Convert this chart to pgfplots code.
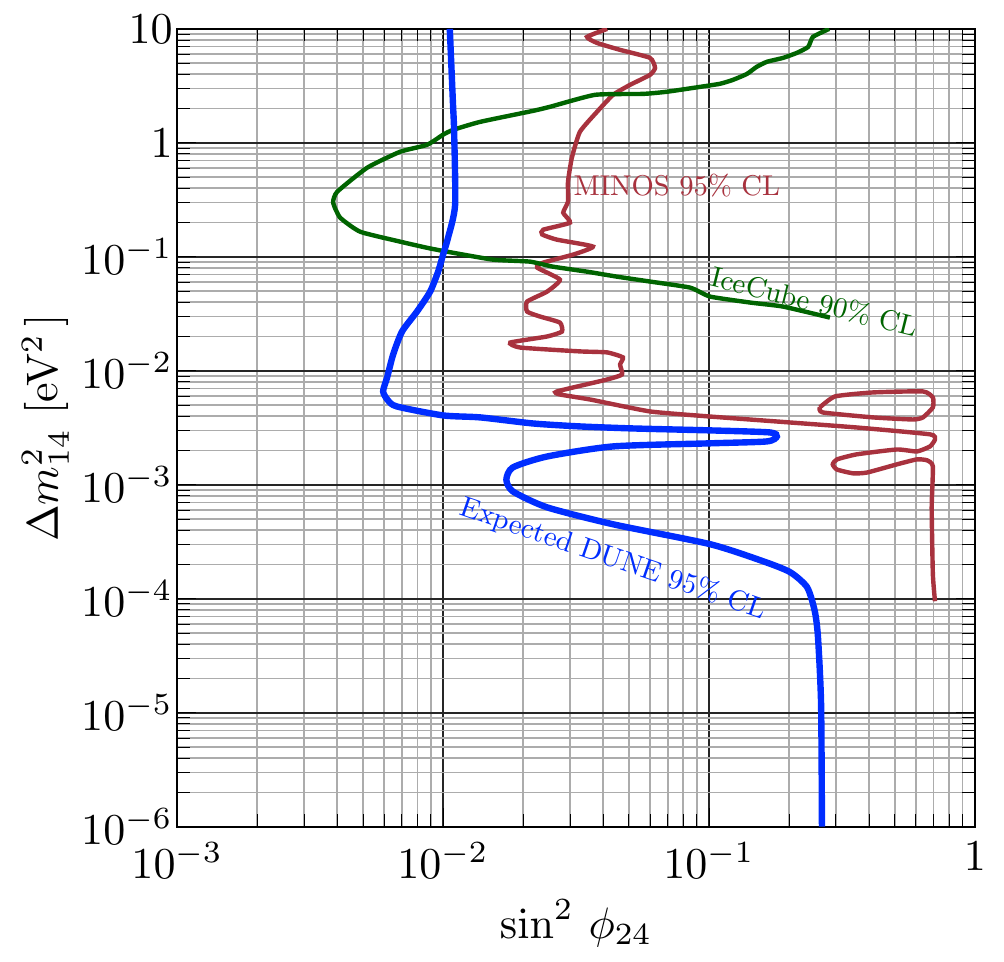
\documentclass[border=0pt]{standalone}
\usepackage{pgfplots}
\pgfplotsset{compat=1.18}
\definecolor{minos}{RGB}{168,50,62}
\definecolor{ice}{RGB}{0,100,0}
\definecolor{dune}{RGB}{0,45,255}
\begin{document}
\begin{tikzpicture}
\begin{axis}[name=ax, xmode=log, ymode=log, scale only axis,
  width=181pt, height=181pt,
  xmin=1e-3, xmax=1, ymin=1e-6, ymax=10,
  xtick={1e-3,1e-2,1e-1,1}, xticklabels={$10^{-3}$,$10^{-2}$,$10^{-1}$,$1$},
  ytick={1e-6,1e-5,1e-4,1e-3,1e-2,1e-1,1,10},
  yticklabels={$10^{-6}$,$10^{-5}$,$10^{-4}$,$10^{-3}$,$10^{-2}$,$10^{-1}$,$1$,$10$},
  yticklabel style={xshift=2.5pt},
  grid=both,
  major grid style={black!85, line width=0.4pt},
  minor grid style={gray!65, line width=0.35pt},
  xlabel={$\sin^2\,\phi_{24}$},
  ylabel={$\Delta m^2_{14}$ [eV$^2$\,]},
  every axis x label/.style={at={(axis description cs:0.5,-0.121)}, anchor=center},
  every axis y label/.style={at={(axis description cs:-0.165,0.5)}, rotate=90, anchor=center},
  tick style={black},
]
% MINOS 95% CL
\addplot[minos, line width=1.0pt, smooth, tension=0.3] coordinates {
(4.14e-2,10) (3.48e-2,8.51) (3.79e-2,7.54) (4.63e-2,6.55) (6.0e-2,5.57)
(6.27e-2,4.55) (6.0e-2,3.95) (5.05e-2,3.23) (4.36e-2,2.64) (3.79e-2,1.87)
(3.27e-2,1.25) (3.05e-2,0.740) (2.95e-2,0.456) (2.95e-2,0.305) (2.83e-2,0.244)
(3.0e-2,0.1995) (2.38e-2,0.173) (2.36e-2,0.157) (2.68e-2,0.1415) (3.66e-2,0.123)
(3.08e-2,0.1045) (2.38e-2,0.0890) (2.26e-2,0.0804) (2.75e-2,0.0631) (2.46e-2,0.0495)
(2.07e-2,0.0405) (2.07e-2,0.0331) (2.32e-2,0.0299) (2.75e-2,0.0265) (2.80e-2,0.0221)
(2.46e-2,0.0200) (1.79e-2,0.0177) (1.95e-2,0.0160) (3.27e-2,0.0148) (4.14e-2,0.0145)
(4.75e-2,0.0131) (4.63e-2,0.01135) (4.71e-2,9.29e-3) (4.14e-2,8.39e-3) (2.68e-2,6.59e-3)
(2.75e-2,6.20e-3) (3.57e-2,5.60e-3) (6.0e-2,4.40e-3) (0.101,3.97e-3) (0.202,3.52e-3)
(0.360,3.18e-3) (0.678,2.77e-3) (0.708,2.50e-3) (0.678,2.17e-3) (0.605,1.96e-3)
(0.509,2.04e-3) (0.360,1.85e-3) (0.303,1.67e-3) (0.292,1.51e-3) (0.303,1.36e-3)
(0.348,1.26e-3) (0.393,1.28e-3) (0.509,1.51e-3) (0.605,1.67e-3) (0.660,1.64e-3)
(0.695,1.45e-3) (0.688,6.34e-4) (0.695,1.64e-4) (0.708,9.5e-5)
};
\addplot[minos, line width=1.0pt, smooth, tension=0.3] coordinates {
(0.261,4.77e-3) (0.298,5.96e-3) (0.414,6.46e-3) (0.638,6.59e-3) (0.695,5.83e-3)
(0.695,4.77e-3) (0.638,3.90e-3) (0.585,3.74e-3) (0.414,3.90e-3) (0.268,4.31e-3)
(0.261,4.77e-3)
};
% IceCube 90% CL
\addplot[ice, line width=1.0pt, smooth, tension=0.3] coordinates {
(0.283,10) (0.246,8.51) (0.236,6.95) (0.214,6.16) (0.190,5.57) (0.165,5.14)
(0.151,4.64) (0.139,4.03) (0.123,3.57) (0.110,3.30) (0.0925,3.10) (0.0695,2.81)
(0.0565,2.69) (0.0373,2.64) (0.0252,2.07) (2.18e-2,1.91) (1.38e-2,1.53)
(1.09e-2,1.30) (1.0e-2,1.18) (8.71e-3,0.962) (6.89e-3,0.835) (5.18e-3,0.605)
(4.0e-3,0.373) (3.86e-3,0.299) (4.10e-3,0.221) (4.88e-3,0.166) (6.89e-3,0.136)
(8.71e-3,0.120) (1.035e-2,0.111) (1.54e-2,0.0945) (2.12e-2,0.0908) (2.59e-2,0.0820)
(3.48e-2,0.0741) (4.51e-2,0.0670) (6.0e-2,0.0607) (0.0849,0.0537) (0.101,0.0448)
(0.143,0.0397) (0.190,0.0366) (0.285,0.0293)
};
% Expected DUNE 95% CL
\addplot[dune, line width=1.45pt, smooth, tension=0.4] coordinates {
(1.06e-2,10) (1.09e-2,2.16) (1.10e-2,1.30) (1.11e-2,0.287) (1.044e-2,0.147)
(1.0e-2,0.1045) (9.58e-3,0.0741) (8.94e-3,0.0495) (7.98e-3,0.0331) (7.01e-3,0.0221)
(6.49e-3,0.0139) (6.16e-3,8.73e-3) (5.95e-3,6.59e-3) (6.21e-3,5.49e-3) (6.71e-3,4.86e-3)
(1.0e-2,4.06e-3) (1.38e-2,3.90e-3) (2.18e-2,3.45e-3) (3.27e-2,3.25e-3) (5.18e-2,3.12e-3)
(0.101,3.00e-3) (0.169,2.88e-3) (0.180,2.65e-3) (0.165,2.40e-3) (0.101,2.31e-3)
(4.36e-2,2.17e-3) (2.46e-2,1.77e-3) (1.83e-2,1.42e-3) (1.73e-2,1.11e-3) (1.83e-2,8.75e-4)
(2.46e-2,6.34e-4) (4.36e-2,4.50e-4) (0.101,3.01e-4) (0.160,2.13e-4) (0.202,1.71e-4)
(0.234,1.26e-4) (0.250,7.77e-5) (0.257,4.60e-5) (0.264,1.19e-5) (0.266,1e-6)
};
\node[anchor=west, text=minos, scale=0.65, inner sep=0pt] at (axis cs:3.08e-2,0.42) {MINOS 95\% CL};
\node[text=ice, rotate=-14, scale=0.65, inner sep=0pt] at (axis cs:0.250,0.0405) {IceCube 90\% CL};
\node[text=dune, rotate=-19, scale=0.65, inner sep=0pt] at (axis cs:0.0436,2.22e-4) {Expected DUNE 95\% CL};
\end{axis}
\path (ax.south west) ++(-40.2pt,-29.5pt) coordinate (bl);
\path (ax.north east) ++(6.6pt,5.5pt) coordinate (tr);
\path (bl) rectangle (tr);
\end{tikzpicture}
\end{document}
